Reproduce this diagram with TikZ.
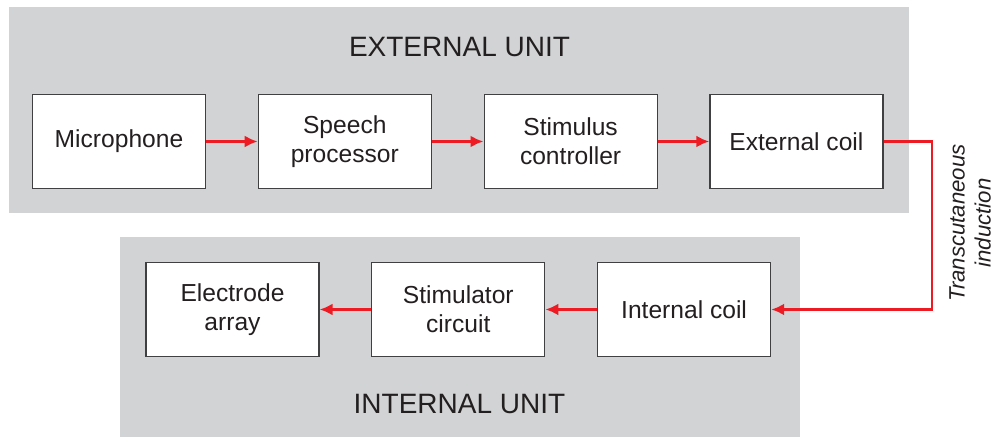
\documentclass[tikz,border=0pt]{standalone}
\usepackage{fontspec}
\setmainfont{Liberation Sans}
\usetikzlibrary{arrows.meta, positioning}
\definecolor{unitgray}{RGB}{209,211,212}
\definecolor{sigred}{RGB}{237,28,36}
\definecolor{boxline}{RGB}{64,64,66}
\definecolor{inktext}{RGB}{35,31,32}

\begin{document}
\begin{tikzpicture}[x=0.5pt, y=-0.5pt,
  block/.style={draw=boxline, line width=0.6pt, fill=white, text=inktext,
    minimum width=86.5pt, minimum height=47pt, inner sep=0pt, align=center,
    font=\fontsize{12.3}{14.5}\selectfont},
  signal/.style={draw=sigred, line width=1.4pt, -{Latex[length=6.5pt, width=6pt]}},
  unitlabel/.style={text=inktext, font=\fontsize{14}{16}\selectfont}]
\useasboundingbox (0,0) rectangle (998,437);

% Two grey panels for the external and internal units
\fill[unitgray] (9,7) rectangle (909,213);
\fill[unitgray] (120,237) rectangle (800,437);
\node[unitlabel] (extlabel) at (459.5,47) {EXTERNAL UNIT};
\node[unitlabel] (intlabel) at (459.5,404) {INTERNAL UNIT};

% External chain
\node[block] (mic) at (119,141.5) {Microphone};
\node[block, right=25.8pt of mic] (speech) {Speech\\processor};
\node[block, right=25.8pt of speech] (stimctl) {Stimulus\\controller};
\node[block, right=25.8pt of stimctl] (extcoil) {External coil};

% Internal chain
\node[block] (electrode) at (232.5,309.5) {Electrode\\array};
\node[block, right=25.8pt of electrode] (stimcirc) {Stimulator\\circuit};
\node[block, right=25.8pt of stimcirc] (intcoil) {Internal coil};

\draw[signal] (mic) -- (speech);
\draw[signal] (speech) -- (stimctl);
\draw[signal] (stimctl) -- (extcoil);
\draw[signal] (intcoil) -- (stimcirc);
\draw[signal] (stimcirc) -- (electrode);

% Link through the skin
\coordinate (skin) at (932,141.5);
\draw[signal] (extcoil.east) -- (skin) |- (intcoil.east);
\node[rotate=90, align=center, text=inktext,
  font=\itshape\fontsize{11.1}{13}\selectfont] (tlabel) at (970,223) {Transcutaneous\\induction};

\end{tikzpicture}
\end{document}
